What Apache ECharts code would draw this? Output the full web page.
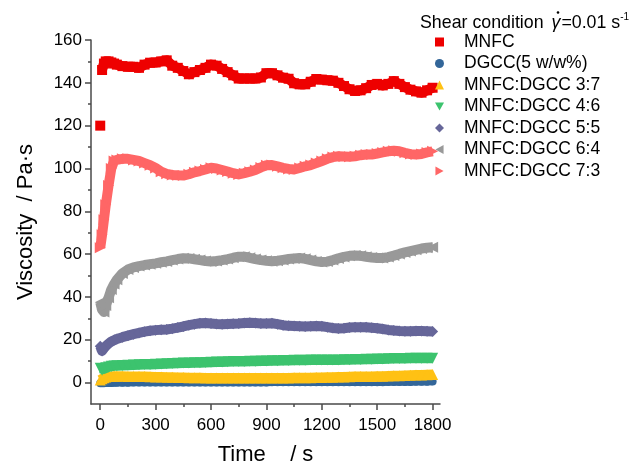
<!DOCTYPE html>
<html><head><meta charset="utf-8">
<script src="https://cdn.jsdelivr.net/npm/echarts@6/dist/echarts.min.js"></script>
<style>html,body{margin:0;padding:0;background:#fff}#c{width:629px;height:464px}</style>
</head><body><div id="c"></div>
<script>
const times = [0,10,20,30,45,60,75,90,120,150,
 180,210,240,270,300,330,360,390,420,450,
 480,510,540,570,600,630,660,690,720,750,
 780,810,840,870,900,930,960,990,1020,1050,
 1080,1110,1140,1170,1200,1230,1260,1290,1320,1350,
 1380,1410,1440,1470,1500,1530,1560,1590,1620,1650,
 1680,1710,1740,1770,1800];
const mnfc = [120,146,149,150,150,149.5,149,148.5,147.8,147.5,
 147.5,147,148.5,149.4,149.5,150,150.5,148,147,145.5,
 144,145,146,147,148.5,148,146.5,145,143.5,142,
 142,142,142,142.5,144.5,144.5,143.5,142.4,141.9,139.8,
 139.3,139.3,140.5,141.8,141.5,141.2,141,140,138.5,137,
 136.2,136.5,137.5,139,139.5,138.8,139.5,140.8,139.5,138,
 136.8,136,135.4,136.5,137.7];
const dgcc = [-0.3,-0.3,-0.3,-0.2,-0.2,-0.2,-0.1,-0.1,-0.1,-0.1,
 0,0,0,0,0,0,0,0,0,0,
 0,0,0,0,0,0,0,0,0,0,
 0,0,0,0,0,0.1,0.1,0.1,0.1,0.1,
 0.1,0.1,0.1,0.1,0.1,0.1,0.1,0.2,0.2,0.2,
 0.2,0.2,0.2,0.2,0.2,0.2,0.3,0.3,0.3,0.3,
 0.3,0.4,0.4,0.4,0.5];
const mix37 = [1.2,1.8,2.3,2.6,2.8,2.9,3,3,3,2.9,
 2.9,2.8,2.8,2.7,2.6,2.6,2.5,2.5,2.4,2.4,
 2.3,2.3,2.3,2.2,2.2,2.2,2.2,2.1,2.1,2.1,
 2.1,2.1,2.1,2.1,2.1,2.2,2.2,2.2,2.2,2.3,
 2.3,2.3,2.3,2.4,2.4,2.5,2.5,2.6,2.6,2.7,
 2.8,2.8,2.9,2.9,3.0,3.0,3.1,3.2,3.2,3.3,
 3.4,3.5,3.6,3.7,3.8];
const mix46 = [6.7,5.8,6.4,6.9,7.3,7.6,7.8,7.9,8.0,8.1,
 8.2,8.3,8.4,8.5,8.6,8.7,8.8,8.9,9.0,9.1,
 9.2,9.3,9.3,9.4,9.5,9.6,9.6,9.7,9.8,9.8,
 9.9,10.0,10.0,10.1,10.1,10.2,10.2,10.3,10.3,10.4,
 10.4,10.4,10.5,10.5,10.5,10.6,10.6,10.6,10.7,10.7,
 10.8,10.8,10.9,10.9,11.0,11.0,11.1,11.2,11.3,11.3,
 11.4,11.4,11.4,11.4,11.4];
const mix55 = [17,14.8,16,17,18.2,19.2,19.8,20.4,21.2,21.9,
 22.6,23.2,23.8,24.2,24.5,24.7,24.8,25.2,25.7,26.2,
 26.8,27.3,27.7,27.8,27.6,27.4,27.3,27.4,27.5,27.6,
 27.8,27.9,27.8,27.6,27.6,27.7,27.3,26.8,26.5,26.4,
 26.3,26.2,26.3,26.4,26.3,25.9,25.5,25.3,25.4,25.7,
 25.9,25.9,25.8,25.6,25.4,25,24.6,24.3,24.1,24,
 24,24.1,24.1,24,23.9];
const mix64 = [37.5,34,33,36,39.6,43.5,46,48,51,52.8,
 53.8,54.4,54.9,55.3,55.7,56.2,56.6,57.2,57.7,58.1,
 58,57.6,57.2,56.8,56.6,56.8,57.2,57.7,58.3,58.8,
 58.8,58.3,57.7,57.2,56.9,56.7,56.9,57.3,57.7,58,
 58.2,57.8,57.2,56.6,56.3,56.5,57.2,58,58.7,59.2,
 59.3,59.2,58.8,58.4,58.2,58.2,58.6,59.3,60.1,60.8,
 61.4,62,62.6,63,63.2];
const mix73 = [63,69,76,83,92,100,103.5,104,104.5,104.5,
 104,103.5,102.5,101.5,100.2,98.5,97.5,97,96.8,96.7,
 97.3,98.2,98.8,99.5,100.3,100,99.3,98.6,97.8,97.2,
 97.8,98.5,99.3,100.5,101.5,101.6,101,100.3,99.8,99.5,
 100.2,101,101.6,102.5,103.5,104.5,105.3,105.7,105.6,105.5,
 105.7,106.2,106.5,106.5,107,107.5,108,108.3,108,107.3,
 106.7,106.5,106.8,107.5,108];

const seriesNames = ['MNFC','DGCC(5 w/w%)','MNFC:DGCC 3:7','MNFC:DGCC 4:6','MNFC:DGCC 5:5','MNFC:DGCC 6:4','MNFC:DGCC 7:3'];
const seriesValues = [mnfc, dgcc, mix37, mix46, mix55, mix64, mix73];
const xMajorTicks = [0,300,600,900,1200,1500,1800];
const xMinorTicks = [150,450,750,1050,1350,1650];
const yMajorTicks = [0,20,40,60,80,100,120,140,160];
const yMinorTicks = [10,30,50,70,90,110,130,150];

const colors = ['#ee0000','#336699','#ffc114','#3cc36e','#666699','#999999','#ff6666'];
const TRI_DOWN = 'path://M0,0L10,0L5,9Z';
const TRI_LEFT = 'path://M9,0L9,10L0,5Z';
const TRI_RIGHT = 'path://M0,0L9,5L0,10Z';
const symbols = ['rect','circle','triangle',TRI_DOWN,'diamond',TRI_LEFT,TRI_RIGHT];
const symSizes = [10,8,11,11,11,11,11];
const lineWidths = [10,7.5,10,10,10,10,10];

const FONT = '"Liberation Sans", Arial, Helvetica, sans-serif';
const axisColor = '#4a4a4a';

function buildData(vals, idx) {
  const d = times.map((t, i) => [t, vals[i]]);
  if (idx === 0) d.splice(1, 0, [5, '-']); // first MNFC point is isolated in the reference
  return d;
}

const series = seriesNames.map((name, i) => ({
  name, type: 'line', xAxisIndex: 0, yAxisIndex: 0,
  data: buildData(seriesValues[i], i),
  symbol: symbols[i], symbolSize: symSizes[i], showSymbol: true,
  connectNulls: false,
  lineStyle: { width: lineWidths[i], color: colors[i], join: 'round' },
  itemStyle: { color: colors[i] },
  emphasis: { disabled: true },
  animation: false,
  z: 2 + i
}));

const numFmt = v => String(v);

const chart = echarts.init(document.getElementById('c'), null, { renderer: 'canvas' });
chart.setOption({
  animation: false,
  backgroundColor: '#ffffff',
  textStyle: { fontFamily: FONT },
  grid: { left: 91, right: 189, top: 40, bottom: 60, containLabel: false, outerBoundsMode: 'none' },
  xAxis: [{
    type: 'value', min: -50, max: 1840, position: 'bottom',
    name: 'Time    / s', nameLocation: 'middle', nameGap: 40,
    nameTextStyle: { fontSize: 22, color: '#000', fontFamily: FONT },
    axisLine: { show: true, onZero: false, lineStyle: { color: axisColor, width: 1.5 } },
    axisTick: { show: true, length: 6, inside: false, customValues: xMajorTicks, lineStyle: { color: axisColor, width: 1.5 } },
    axisLabel: { show: true, customValues: xMajorTicks, formatter: numFmt, fontSize: 17, color: '#000', margin: 13, fontFamily: FONT },
    splitLine: { show: false }
  }, {
    type: 'value', min: -50, max: 1840, position: 'bottom',
    axisLine: { show: false, onZero: false },
    axisTick: { show: true, length: 3, inside: false, customValues: xMinorTicks, lineStyle: { color: axisColor, width: 1.5 } },
    axisLabel: { show: false },
    splitLine: { show: false }
  }],
  yAxis: [{
    type: 'value', min: -10, max: 160, position: 'left',
    name: 'Viscosity  / Pa·s', nameLocation: 'middle', nameGap: 54, nameRotate: 90,
    nameTextStyle: { fontSize: 22, color: '#000', fontFamily: FONT },
    axisLine: { show: true, onZero: false, lineStyle: { color: axisColor, width: 1.5 } },
    axisTick: { show: true, length: 6, inside: false, customValues: yMajorTicks, lineStyle: { color: axisColor, width: 1.5 } },
    axisLabel: { show: true, customValues: yMajorTicks, formatter: numFmt, fontSize: 17, color: '#000', margin: 9, fontFamily: FONT },
    splitLine: { show: false }
  }, {
    type: 'value', min: -10, max: 160, position: 'left',
    axisLine: { show: false, onZero: false },
    axisTick: { show: true, length: 3, inside: false, customValues: yMinorTicks, lineStyle: { color: axisColor, width: 1.5 } },
    axisLabel: { show: false },
    splitLine: { show: false }
  }],
  legend: {
    orient: 'vertical', left: 435, top: 33, padding: 0,
    itemWidth: 9, itemHeight: 9, itemGap: 3.5,
    selectedMode: false,
    textStyle: { fontSize: 17.5, color: '#000', lineHeight: 18, padding: [0, 0, 0, 15], fontFamily: FONT },
    data: seriesNames.map((n, i) => ({ name: n, icon: symbols[i] }))
  },
  graphic: [{
    type: 'text', left: 420, top: 12, silent: true,
    style: {
      text: '{a|Shear condition }{g|\u03B3}{a|=0.01 s}{s|-1}',
      rich: {
        a: { fontSize: 17.8, fontFamily: FONT, fill: '#000', lineHeight: 20, verticalAlign: 'bottom' },
        g: { fontSize: 17.8, fontFamily: FONT, fontStyle: 'italic', fill: '#000', lineHeight: 20, verticalAlign: 'bottom', padding: [0, 1, 0, 3] },
        s: { fontSize: 10, fontFamily: FONT, fill: '#000', lineHeight: 20, verticalAlign: 'top' }
      }
    }
  }, {
    type: 'circle', silent: true,
    shape: { cx: 558, cy: 12.5, r: 1.3 },
    style: { fill: '#000' }
  }],
  series
});
</script>
</body></html>
